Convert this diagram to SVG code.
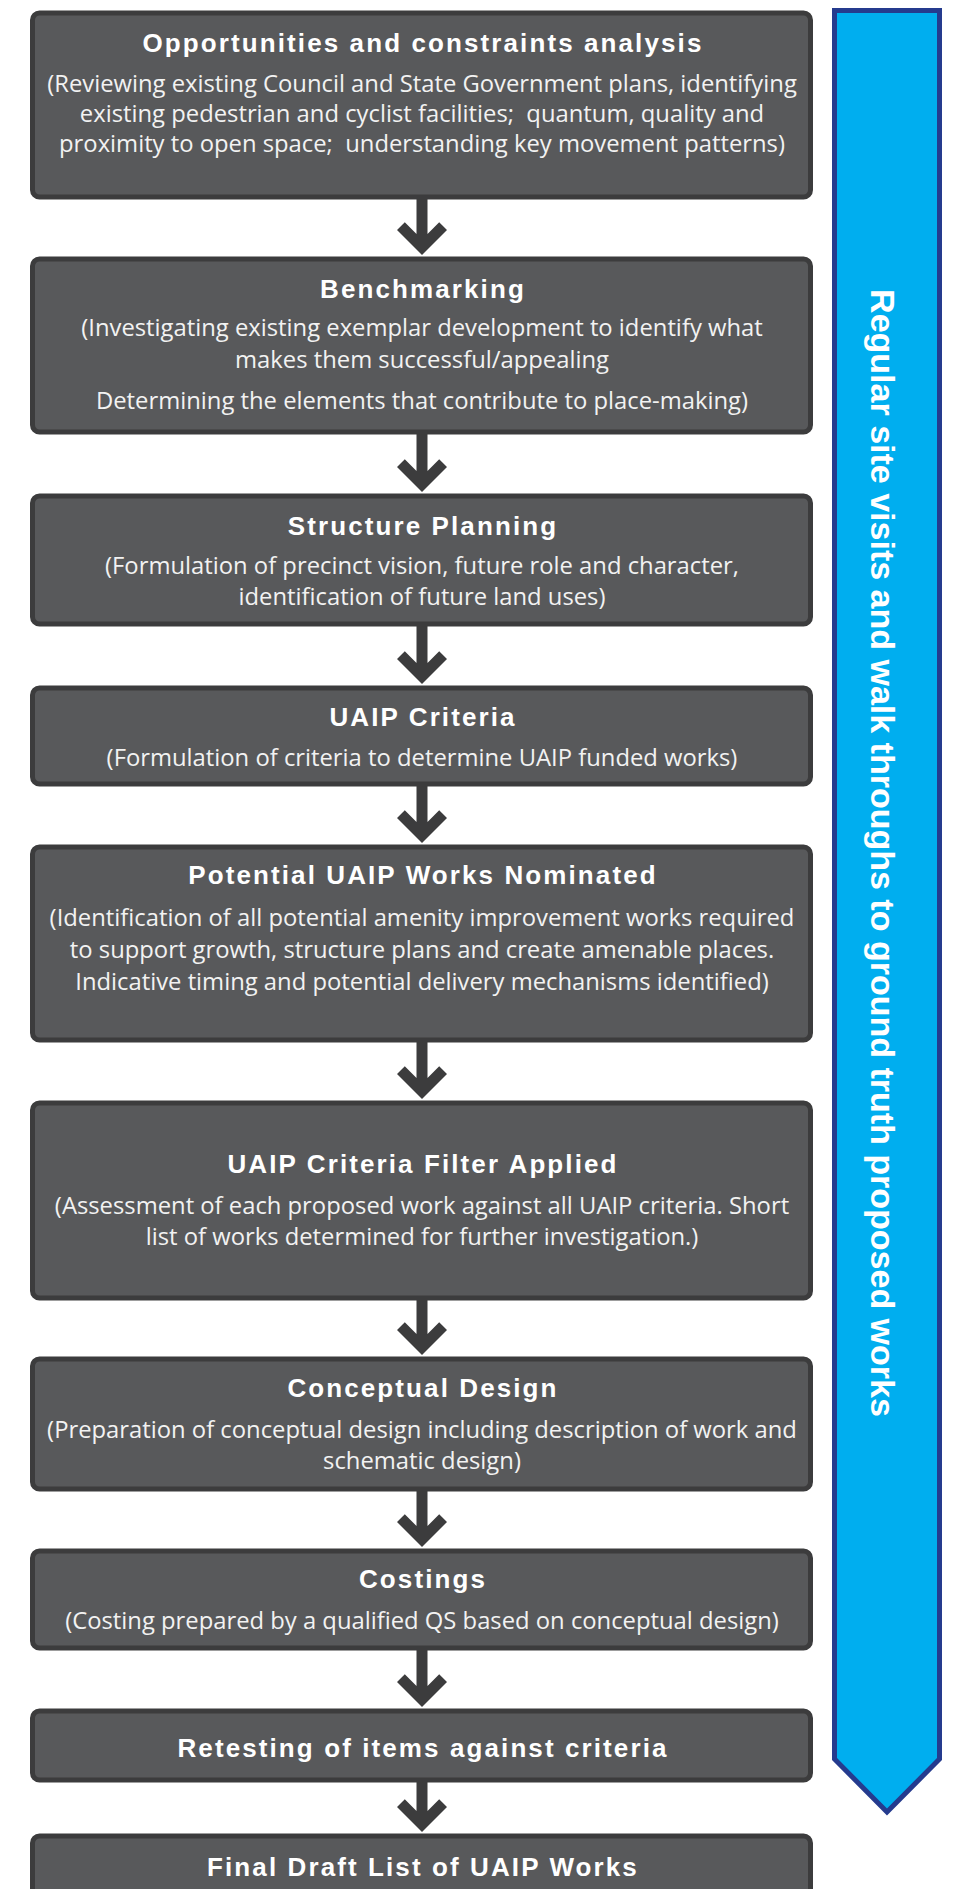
<svg xmlns="http://www.w3.org/2000/svg" width="955" height="1889" viewBox="0 0 955 1889">
<defs>
<style>
.box{fill:#58595b;stroke:#3c3c3d;stroke-width:5}
.t{font-family:"Liberation Sans",Arial,sans-serif;font-weight:bold;font-size:26px;letter-spacing:2.1px;fill:#ffffff;text-anchor:middle}
.b{font-family:"Open Sans",sans-serif;font-size:23.8px;fill:#f2f2f2;text-anchor:middle}
.arr{fill:#3c3c3d}
.side{fill:#00aeef;stroke:#253b8e;stroke-width:5;stroke-linejoin:miter}
.st{font-family:"Liberation Sans",Arial,sans-serif;font-weight:bold;font-size:34px;fill:#ffffff;text-anchor:middle}
</style>
</defs>
<rect width="955" height="1889" fill="#ffffff"/>

<g id="side-arrow">
<polygon class="side" points="834.5,10.5 939.5,10.5 939.5,1759 887,1812 834.5,1759"/>
<text class="st" transform="translate(871,853) rotate(90)">Regular site visits and walk throughs to ground truth proposed works</text>
</g>

<g id="connectors" class="arr">
<path d="M416.5,199 H427.5 V234 L439.2,222.2 L447,230 L422,255 L397,230 L404.8,222.2 L416.5,234 Z"/>
<path d="M416.5,434 H427.5 V471 L439.2,459.2 L447,467 L422,492 L397,467 L404.8,459.2 L416.5,471 Z"/>
<path d="M416.5,626 H427.5 V663 L439.2,651.2 L447,659 L422,684 L397,659 L404.8,651.2 L416.5,663 Z"/>
<path d="M416.5,786 H427.5 V822 L439.2,810.2 L447,818 L422,843 L397,818 L404.8,810.2 L416.5,822 Z"/>
<path d="M416.5,1042 H427.5 V1078 L439.2,1066.2 L447,1074 L422,1099 L397,1074 L404.8,1066.2 L416.5,1078 Z"/>
<path d="M416.5,1300 H427.5 V1334 L439.2,1322.2 L447,1330 L422,1355 L397,1330 L404.8,1322.2 L416.5,1334 Z"/>
<path d="M416.5,1491 H427.5 V1526 L439.2,1514.2 L447,1522 L422,1547 L397,1522 L404.8,1514.2 L416.5,1526 Z"/>
<path d="M416.5,1650 H427.5 V1686 L439.2,1674.2 L447,1682 L422,1707 L397,1682 L404.8,1674.2 L416.5,1686 Z"/>
<path d="M416.5,1782 H427.5 V1811 L439.2,1799.2 L447,1807 L422,1832 L397,1807 L404.8,1799.2 L416.5,1811 Z"/>
</g>

<g id="n1">
<rect class="box" x="32.5" y="13" width="778" height="184" rx="7"/>
<text class="t" x="423" y="52">Opportunities and constraints analysis</text>
<text class="b" x="422" y="92" xml:space="preserve">(Reviewing existing Council and State Government plans, identifying</text>
<text class="b" x="422" y="122" xml:space="preserve">existing pedestrian and cyclist facilities;  quantum, quality and</text>
<text class="b" x="422" y="152" xml:space="preserve">proximity to open space;  understanding key movement patterns)</text>
</g>

<g id="n2">
<rect class="box" x="32.5" y="259" width="778" height="173" rx="7"/>
<text class="t" x="423" y="298">Benchmarking</text>
<text class="b" x="422" y="336">(Investigating existing exemplar development to identify what</text>
<text class="b" x="422" y="368">makes them successful/appealing</text>
<text class="b" x="422" y="409">Determining the elements that contribute to place-making)</text>
</g>

<g id="n3">
<rect class="box" x="32.5" y="496" width="778" height="128" rx="7"/>
<text class="t" x="423" y="535">Structure Planning</text>
<text class="b" x="422" y="574">(Formulation of precinct vision, future role and character,</text>
<text class="b" x="422" y="605">identification of future land uses)</text>
</g>

<g id="n4">
<rect class="box" x="32.5" y="688" width="778" height="96" rx="7"/>
<text class="t" x="423" y="726">UAIP Criteria</text>
<text class="b" x="422" y="766">(Formulation of criteria to determine UAIP funded works)</text>
</g>

<g id="n5">
<rect class="box" x="32.5" y="847" width="778" height="193" rx="7"/>
<text class="t" x="423" y="884">Potential UAIP Works Nominated</text>
<text class="b" x="422" y="926">(Identification of all potential amenity improvement works required</text>
<text class="b" x="422" y="958">to support growth, structure plans and create amenable places.</text>
<text class="b" x="422" y="990">Indicative timing and potential delivery mechanisms identified)</text>
</g>

<g id="n6">
<rect class="box" x="32.5" y="1103" width="778" height="195" rx="7"/>
<text class="t" x="423" y="1173">UAIP Criteria Filter Applied</text>
<text class="b" x="422" y="1214">(Assessment of each proposed work against all UAIP criteria. Short</text>
<text class="b" x="422" y="1245">list of works determined for further investigation.)</text>
</g>

<g id="n7">
<rect class="box" x="32.5" y="1359" width="778" height="130" rx="7"/>
<text class="t" x="423" y="1397">Conceptual Design</text>
<text class="b" x="422" y="1438">(Preparation of conceptual design including description of work and</text>
<text class="b" x="422" y="1469">schematic design)</text>
</g>

<g id="n8">
<rect class="box" x="32.5" y="1551" width="778" height="97" rx="7"/>
<text class="t" x="423" y="1588">Costings</text>
<text class="b" x="422" y="1629">(Costing prepared by a qualified QS based on conceptual design)</text>
</g>

<g id="n9">
<rect class="box" x="32.5" y="1711" width="778" height="69" rx="7"/>
<text class="t" x="423" y="1757">Retesting of items against criteria</text>
</g>

<g id="n10">
<rect class="box" x="32.5" y="1836" width="778" height="80" rx="7"/>
<text class="t" x="423" y="1876">Final Draft List of UAIP Works</text>
</g>
</svg>
